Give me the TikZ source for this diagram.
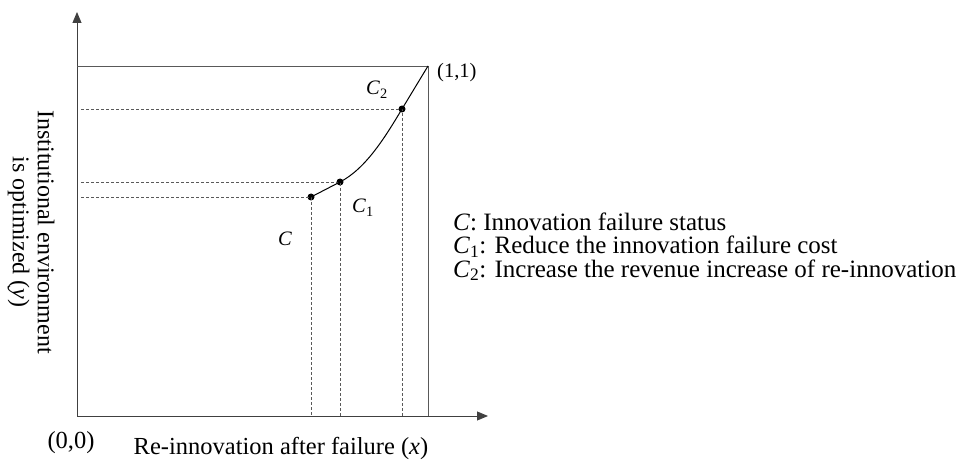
\documentclass[tikz,border=0pt]{standalone}
\usepackage{fontspec}
\setmainfont{Liberation Serif}
\usetikzlibrary{arrows.meta}
\begin{document}
\begin{tikzpicture}[x=1pt,y=-1pt,
  axis/.style={draw=black!75,line width=0.9pt,-{Triangle[length=11pt,width=9pt]}},
  frame/.style={draw=black!65,line width=0.9pt},
  guide/.style={draw=black!65,dash pattern=on 3pt off 2pt,line width=0.6pt},
  dot/.style={circle,fill=black,inner sep=0pt,minimum size=7pt},
  lbl/.style={font=\fontsize{24.5}{27}\selectfont,inner sep=0pt},
  small/.style={font=\fontsize{20.5}{24}\selectfont,inner sep=0pt}]
\useasboundingbox (0,0) rectangle (968,462);
\coordinate (O) at (77,416);
\coordinate (Ytop) at (77,12);
\coordinate (Xend) at (488,416);
\coordinate (TL) at (77,66);
\coordinate (TR) at (428,66);
\coordinate (BR) at (428,416);
\node[dot] (C) at (311,197) {};
\node[dot] (C1) at (340,182) {};
\node[dot] (C2) at (402,109) {};
\coordinate (yC) at (81,197);
\coordinate (yC1) at (81,182);
\coordinate (yC2) at (81,109);
\coordinate (xC) at (311,416);
\coordinate (xC1) at (340,416);
\coordinate (xC2) at (402,416);
\draw[axis] (O) -- (Ytop);
\draw[axis] (O) -- (Xend);
\draw[frame] (TL) -- (TR) -- (BR);
\draw[guide] (yC) -- (C.center) -- (xC);
\draw[guide] (yC1) -- (C1.center) -- (xC1);
\draw[guide] (yC2) -- (C2.center) -- (xC2);
\draw[line width=1pt,line join=round] (C.center) -- (C1.center) .. controls (366.7,168.2) and (386.5,134.7) .. (C2.center) -- (TR);
\node[small,anchor=base west] (one) at (437,78) {(1,1)};
\node[lbl,anchor=base] (zero) at (71,448) {(0,0)};
\node[small,anchor=base west] (lc2) at (366,95) {\textit{C}\textsubscript{2}};
\node[small,anchor=base west] (lc1) at (352,213) {\textit{C}\textsubscript{1}};
\node[small,anchor=base] (lc) at (285,245) {\textit{C}};
\node[lbl,anchor=base] (xl) at (281,454) {Re-innovation after failure (\textit{x})};
\node[font=\fontsize{24}{25}\selectfont,inner sep=0pt,rotate=-90,align=center] (yl) at (31,232) {Institutional environment\\is optimized (\textit{y})};
\node[font=\fontsize{25}{23.3}\selectfont,inner sep=0pt,align=left,anchor=base west] (legend) at (453,277) {\textit{C}: Innovation failure status\\\textit{C}\textsubscript{1}: Reduce the innovation failure cost\\\textit{C}\textsubscript{2}: Increase the revenue increase of re-innovation};
\end{tikzpicture}
\end{document}
